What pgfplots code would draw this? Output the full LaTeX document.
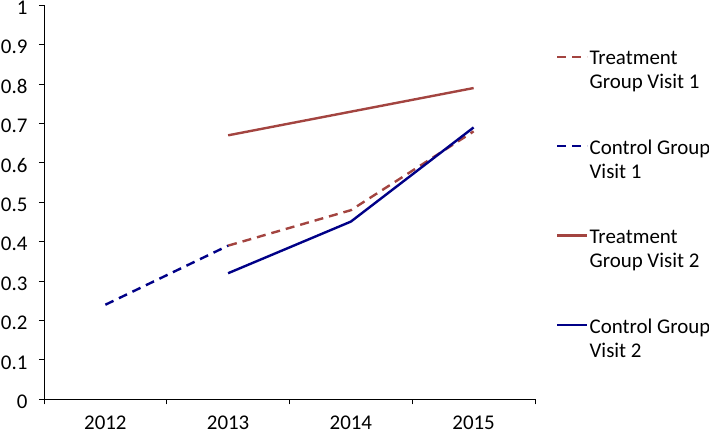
\documentclass[border=0pt]{standalone}
\usepackage{pgfplots}
\pgfplotsset{compat=1.18}
\usepackage{fontspec}
\setmainfont{Carlito}
\definecolor{tbrown}{RGB}{163,68,64}
\definecolor{cnavy}{RGB}{0,0,135}
\begin{document}
\begin{tikzpicture}
\useasboundingbox (-44bp,-33.7bp) rectangle (665bp,399.3bp);
\begin{axis}[
  at={(0bp,0bp)}, anchor=south west,
  scale only axis, width=491bp, height=394bp,
  xmin=-0.5, xmax=3.5, ymin=0, ymax=1,
  axis lines=left,
  axis line style={-, black, line width=0.8bp},
  font=\fontsize{21}{24}\selectfont,
  tick align=outside,
  major tick length=5bp,
  tick style={black, line width=0.8bp},
  xtick={-0.5,0.5,1.5,2.5,3.5},
  xticklabels={},
  extra x ticks={0,1,2,3},
  extra x tick labels={2012,2013,2014,2015},
  extra x tick style={major tick length=0pt, tick label style={inner sep=0pt, yshift=-16bp}},
  ytick={0,0.1,0.2,0.3,0.4,0.5,0.6,0.7,0.8,0.9,1},
  yticklabels={0,0.1,0.2,0.3,0.4,0.5,0.6,0.7,0.8,0.9,1},
  yticklabel style={xshift=-8bp, yshift=-2.5bp},
  legend cell align=left,
  legend image code/.code={\draw[#1] (0bp,14bp) -- (30bp,14bp);},
  legend style={at={(rel axis cs:1,1)}, anchor=north west, draw=none, fill=none,
    xshift=21bp, yshift=-45bp, inner sep=0pt, row sep=48bp,
    nodes={align=left, inner sep=1bp},
    font=\fontsize{21}{24}\selectfont},
]
\addplot[tbrown, line width=2.4bp, dash pattern=on 9bp off 6bp] coordinates {(1,0.39) (2,0.48) (3,0.68)};
\addlegendentry{Treatment\\Group Visit 1}
\addplot[cnavy, line width=2.4bp, dash pattern=on 9bp off 6bp] coordinates {(0,0.24) (1,0.39)};
\addlegendentry{Control Group\\Visit 1}
\addplot[tbrown, line width=2.4bp] coordinates {(1,0.67) (2,0.73) (3,0.79)};
\addlegendentry{Treatment\\Group Visit 2}
\addplot[cnavy, line width=2.4bp] coordinates {(1,0.32) (2,0.451) (3,0.69)};
\addlegendentry{Control Group\\Visit 2}
\end{axis}
\end{tikzpicture}
\end{document}
